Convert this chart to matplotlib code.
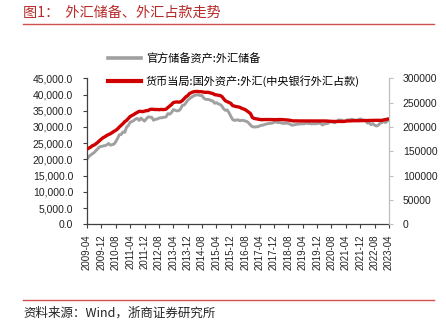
import matplotlib
matplotlib.use("Agg")
import matplotlib.pyplot as plt
from matplotlib.ticker import FuncFormatter, MultipleLocator
from matplotlib.lines import Line2D

plt.rcParams['font.family'] = ['Liberation Sans', 'Noto Sans CJK SC', 'DejaVu Sans']
CJK = ['Noto Sans CJK SC', 'DejaVu Sans']

# ---------------- data ----------------
start_year, start_month = 2009, 4

# 官方储备资产:外汇储备 (亿美元), monthly 2009-04 .. 2023-04
fx_reserves = [
    20089, 20895, 21316, 21746, 22110, 22726, 23283, 23876, 23992,            # 2009
    24152, 24245, 24471, 24905, 24395, 24543, 24703, 25483, 26483, 27608, 27684, 28473,  # 2010
    28313, 29914, 30447, 31458, 31663, 31975, 32452, 32625, 32017, 32738, 32209, 31811,  # 2011
    32536, 33098, 33050, 32989, 32061, 32400, 32400, 32729, 32850, 32870, 33000, 33116,  # 2012
    34100, 33954, 34426, 35345, 35148, 34967, 35000, 35530, 36627, 36736, 37400, 38213,  # 2013
    38666, 39137, 39481, 39788, 39839, 39932, 39660, 39688, 38877, 38529, 38473, 38430,  # 2014
    38134, 38015, 37300, 37481, 37111, 36938, 36513, 35574, 35141, 35255, 34383, 33304,  # 2015
    32309, 32023, 32126, 32197, 31917, 32052, 32011, 31852, 31664, 31207, 30516, 30105,  # 2016
    29982, 30051, 30091, 30295, 30536, 30568, 30807, 30915, 31085, 31092, 31193, 31399,  # 2017
    31615, 31345, 31428, 31249, 31106, 31121, 31179, 31097, 30870, 30531, 30617, 30727,  # 2018
    30879, 30902, 30988, 30950, 31010, 31192, 31037, 31072, 30924, 31052, 30956, 31079,  # 2019
    31155, 31067, 30606, 30915, 31017, 31123, 31544, 31646, 31426, 31280, 31785, 32165,  # 2020
    32107, 32050, 31700, 31982, 32218, 32140, 32359, 32321, 32006, 32176, 32224, 32502,  # 2021
    32216, 32138, 31880, 31197, 31278, 30713, 31041, 30549, 30290, 30524, 31175, 31277,  # 2022
    31845, 31332, 31839, 32048,                                                # 2023
]

# 货币当局:国外资产:外汇(中央银行外汇占款) (亿元), monthly 2009-04 .. 2023-04
fx_funds = [
    154500, 156500, 158500, 161500, 163000, 165500, 168500, 172000, 175155,
    178000, 180000, 182500, 184500, 186000, 188500, 191000, 193000, 196000, 200000, 203500, 206767,
    211000, 213500, 217500, 221500, 223500, 225500, 228000, 230000, 232000, 232000, 231500, 232389,
    233500, 233700, 236000, 236500, 236200, 235800, 236000, 235400, 236000, 235800, 235900, 236670,
    240000, 243000, 246000, 250000, 251000, 251500, 251000, 251500, 254000, 258000, 262000, 264270,
    268500, 270500, 272000, 272800, 273000, 272700, 272400, 272300, 271500, 271100, 271300, 270681,
    269500, 268800, 266400, 265900, 265100, 264600, 262800, 258000, 253700, 252000, 250500, 248538,
    243900, 242900, 241900, 241400, 240400, 238400, 237100, 235600, 232900, 230300, 227200, 219425,
    217500, 216800, 216000, 215500, 215000, 215000, 215200, 215300, 215300, 215200, 215000, 214788,
    215000, 215200, 215300, 215300, 215000, 214800, 214400, 214200, 213500, 212800, 212300, 212557,
    212400, 212400, 212400, 212300, 212300, 212200, 212200, 212200, 212200, 212200, 212300, 212317,
    212300, 212300, 212300, 212300, 212300, 211900, 211700, 211500, 211400, 211400, 211300, 211308,
    211200, 211300, 211300, 212000, 212400, 212400, 212600, 212800, 212700, 212800, 212900, 212867,
    213000, 213100, 213300, 213400, 213700, 213700, 213800, 213800, 213700, 213700, 213600, 213640,
    214500, 215000, 215800, 217500,
]

labels_gray = '官方储备资产:外汇储备'
labels_red = '货币当局:国外资产:外汇(中央银行外汇占款)'
title_text = '图1：  外汇储备、外汇占款走势'
source_text = '资料来源：Wind，浙商证券研究所'

n = len(fx_reserves)
months = []
y, m = start_year, start_month
for _ in range(n):
    months.append(f'{y}-{m:02d}')
    m += 1
    if m > 12:
        m = 1
        y += 1
x = list(range(n))

# ---------------- figure ----------------
W, H = 446, 329
fig = plt.figure(figsize=(W / 100, H / 100), dpi=100)

def fx(px):
    return px / W

def fy(py):
    return 1 - py / H

left, right, top, bottom = 87, 389, 78.3, 224.3
ax = fig.add_axes([fx(left), fy(bottom), fx(right - left), (bottom - top) / H])
ax2 = ax.twinx()

gray_c = '#A0A0A0'
red_c = '#D00000'

ax.plot(x, fx_reserves, color=gray_c, lw=2.1, solid_capstyle='butt', zorder=2)
ax2.plot(x, fx_funds, color=red_c, lw=2.4, solid_capstyle='butt', zorder=3)

ax.set_xlim(0, n - 1)
ax.set_ylim(0, 45000)
ax2.set_ylim(0, 300000)
ax.yaxis.set_major_locator(MultipleLocator(5000))
ax2.yaxis.set_major_locator(MultipleLocator(50000))
ax.yaxis.set_major_formatter(FuncFormatter(lambda v, p: f'{v:,.1f}'))
ax2.yaxis.set_major_formatter(FuncFormatter(lambda v, p: f'{int(v)}'))

ticks = list(range(0, n, 8))
ax.set_xticks(ticks)
ax.set_xticklabels([months[i] for i in ticks], rotation=90)

for a in (ax, ax2):
    a.spines['top'].set_visible(False)
    a.patch.set_visible(False)
ax.spines['right'].set_visible(False)
ax2.spines['left'].set_visible(False)
ax2.spines['bottom'].set_visible(False)
ax.spines['left'].set_color('#404040')
ax.spines['bottom'].set_color('#404040')
ax2.spines['right'].set_color('#BFBFBF')
for s in ('left', 'bottom'):
    ax.spines[s].set_linewidth(0.9)
ax2.spines['right'].set_linewidth(0.9)

ax.tick_params(axis='y', direction='out', length=3, width=0.8, color='#404040',
               labelsize=7.5, pad=7, labelcolor='#222222')
ax.tick_params(axis='x', direction='out', length=3, width=0.8, color='#404040',
               labelsize=7, pad=4, labelcolor='#222222')
ax2.tick_params(axis='y', direction='out', length=3, width=0.8, color='#BFBFBF',
                labelsize=7.5, pad=7, labelcolor='#222222')

# legend
handles = [Line2D([], [], color=gray_c, lw=2.6), Line2D([], [], color=red_c, lw=3.0)]
fig.legend(handles, [labels_gray, labels_red], loc='upper left',
           bbox_to_anchor=(fx(108), fy(53)), frameon=False,
           prop={'family': CJK, 'size': 8}, handlelength=3.0, handletextpad=0.4,
           labelspacing=1.0, borderpad=0, borderaxespad=0)

# title and source
fig.text(fx(23), fy(12.5), title_text, color='#B82A2A', fontsize=10.2,
         family=CJK, va='center', ha='left')
fig.add_artist(Line2D([fx(23), fx(434)], [fy(24.3), fy(24.3)], color='#D05050', lw=1.0))
fig.add_artist(Line2D([fx(23), fx(434)], [fy(299.7), fy(299.7)], color='#D05050', lw=1.0))
fig.text(fx(23), fy(313), source_text, color='#222222', fontsize=9,
         family=CJK, va='center', ha='left')

fig.savefig('out.png', dpi=100)
